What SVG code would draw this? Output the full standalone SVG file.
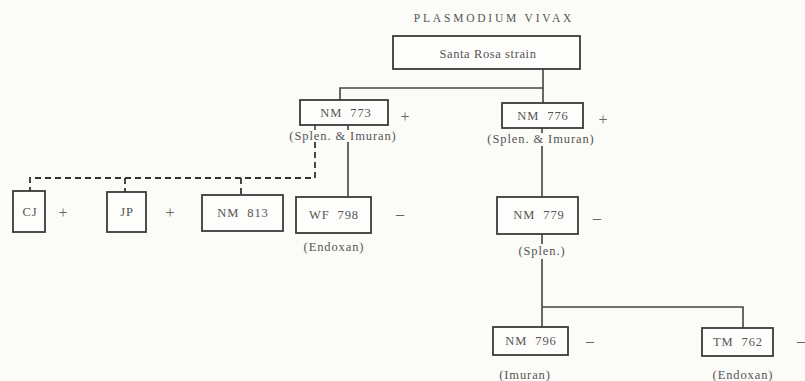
<svg xmlns="http://www.w3.org/2000/svg" width="805" height="381" viewBox="0 0 805 381">
<style>
  .box { fill: #fdfdfb; stroke: #3a3a3a; stroke-width: 1.8; }
  .t { font-family: "Liberation Serif", serif; font-size: 12.5px; fill: #555; text-anchor: middle; letter-spacing: 0.9px; }
  .sign { font-family: "Liberation Serif", serif; font-size: 16px; fill: #666; text-anchor: middle; }
  .ln { fill: none; stroke: #444; stroke-width: 1.6; }
  .dash { fill: none; stroke: #333; stroke-width: 1.8; stroke-dasharray: 6 4; }
</style>
<rect width="805" height="381" fill="#fbfbf8"/>
<text class="t" x="494" y="22" style="letter-spacing:2.8px;font-size:11.5px">PLASMODIUM VIVAX</text>

<g id="connectors">
  <path class="ln" d="M543 69 V88 H340 V100"/>
  <path class="ln" d="M543 88 V103"/>
  <path class="ln" d="M542 128 V133 M542 146 V197"/>
  <path class="ln" d="M542 234 V244 M542 259 V307 H743 V328 M542 307 V327"/>
  <path class="ln" d="M348 125 V130 M348 142 V197"/>
  <path class="ln" d="M315 125 V130"/>
  <path class="dash" d="M315 142 V178 H30 V191"/>
  <path class="dash" d="M125 178 V192 M241 178 V195"/>
</g>

<g id="santa-rosa">
  <rect class="box" x="393" y="36" width="187" height="33"/>
  <text class="t" x="488" y="58" style="letter-spacing:0.6px">Santa Rosa strain</text>
</g>
<g id="nm773">
  <rect class="box" x="300" y="100" width="88" height="25"/>
  <text class="t" x="346" y="117">NM&#160; 773</text>
  <text class="sign" x="405" y="122">+</text>
  <text class="t" x="343" y="140">(Splen. &amp; Imuran)</text>
</g>
<g id="nm776">
  <rect class="box" x="502" y="103" width="81" height="25"/>
  <text class="t" x="543" y="120">NM&#160; 776</text>
  <text class="sign" x="603" y="125">+</text>
  <text class="t" x="541" y="143">(Splen. &amp; Imuran)</text>
</g>
<g id="cj">
  <rect class="box" x="13" y="191" width="32" height="41"/>
  <text class="t" x="30" y="216">CJ</text>
  <text class="sign" x="63" y="218">+</text>
</g>
<g id="jp">
  <rect class="box" x="107" y="192" width="39" height="40"/>
  <text class="t" x="127" y="216">JP</text>
  <text class="sign" x="170" y="218">+</text>
</g>
<g id="nm813">
  <rect class="box" x="202" y="195" width="81" height="36"/>
  <text class="t" x="243" y="217">NM&#160; 813</text>
</g>
<g id="wf798">
  <rect class="box" x="296" y="197" width="75" height="36"/>
  <text class="t" x="334" y="219">WF&#160; 798</text>
  <text class="sign" x="400" y="219">–</text>
  <text class="t" x="334" y="251">(Endoxan)</text>
</g>
<g id="nm779">
  <rect class="box" x="497" y="197" width="81" height="37"/>
  <text class="t" x="539" y="219">NM&#160; 779</text>
  <text class="sign" x="597" y="223">–</text>
  <text class="t" x="542" y="255">(Splen.)</text>
</g>
<g id="nm796">
  <rect class="box" x="493" y="327" width="75" height="28"/>
  <text class="t" x="531" y="345">NM&#160; 796</text>
  <text class="sign" x="590" y="346">–</text>
  <text class="t" x="525" y="379">(Imuran)</text>
</g>
<g id="tm762">
  <rect class="box" x="702" y="328" width="71" height="28"/>
  <text class="t" x="738" y="346">TM&#160; 762</text>
  <text class="sign" x="801" y="346">–</text>
  <text class="t" x="743" y="379">(Endoxan)</text>
</g>
</svg>
